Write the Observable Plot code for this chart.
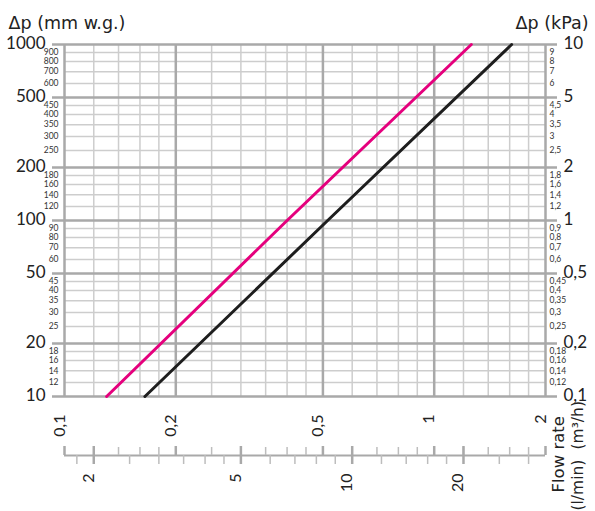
<!DOCTYPE html>
<html><head><meta charset="utf-8">
<script src="https://cdn.jsdelivr.net/npm/d3@7"></script>
<script src="https://cdn.jsdelivr.net/npm/@observablehq/plot@0.6"></script>
<style>html,body{margin:0;padding:0;background:#fff} svg{display:block}</style>
</head><body><div id="chart"></div>
<script>
// Flow rate grid (m³/h)
const flowMajor = [0.1, 0.2, 0.5, 1, 2];
const flowMajorLabels = ["0,1", "0,2", "0,5", "1", "2"];
const flowMinor = [0.12, 0.14, 0.16, 0.18, 0.25, 0.3, 0.35, 0.4, 0.45, 0.6, 0.7, 0.8, 0.9, 1.2, 1.4, 1.6, 1.8];
// Flow rate secondary axis (l/min)
const lpmMajor = [2, 5, 10, 20];
const lpmMinor = [1.8, 2.5, 3, 3.5, 4, 4.5, 6, 7, 8, 9, 12, 14, 16, 18, 25, 30];
const lpmToM3h = 0.06;
// Pressure drop (mm w.g.)
const dpMajor = [10, 20, 50, 100, 200, 500, 1000];
const dpMinor = [12, 14, 16, 18, 25, 30, 35, 40, 45, 60, 70, 80, 90, 120, 140, 160, 180, 250, 300, 350, 400, 450, 600, 700, 800, 900];
// Pressure drop (kPa), aligned 1 kPa = 100 mm w.g.
const kpaMajor = [0.1, 0.2, 0.5, 1, 2, 5, 10];
const kpaMinor = [0.12, 0.14, 0.16, 0.18, 0.25, 0.3, 0.35, 0.4, 0.45, 0.6, 0.7, 0.8, 0.9, 1.2, 1.4, 1.6, 1.8, 2.5, 3, 3.5, 4, 4.5, 6, 7, 8, 9];
const kpaToMm = 100;
// Curves
const magentaFlow = [0.13, 0.40, 1.26];
const magentaDp = [10, 100, 1000];
const blackFlow = [0.165, 0.515, 1.62];
const blackDp = [10, 100, 1000];

const magenta = magentaFlow.map((f, i) => ({flow: f, dp: magentaDp[i]}));
const black = blackFlow.map((f, i) => ({flow: f, dp: blackDp[i]}));
const fmt = d => String(d).replace(".", ",");

const MINOR = "#cdcdcd", MAJOR = "#a9a9a9", TXT = "#222";
const WIDE = "'DejaVu Sans', 'Noto Sans', sans-serif";

const chart = Plot.plot({
  width: 595, height: 511,
  marginLeft: 64, marginRight: 50, marginTop: 44, marginBottom: 115,
  x: {type: "log", domain: [0.1, 2], axis: null},
  y: {type: "log", domain: [10, 1000], axis: null},
  style: {fontFamily: "Lato, 'Noto Sans', sans-serif", background: "#fff", color: TXT},
  marks: [
    // grid
    Plot.ruleY(dpMinor, {stroke: MINOR, strokeWidth: 1.5}),
    Plot.ruleX(flowMinor, {stroke: MINOR, strokeWidth: 1.5}),
    Plot.ruleY(dpMajor, {stroke: MAJOR, strokeWidth: 2.5, insetLeft: -12, insetRight: -12}),
    Plot.ruleX(flowMajor, {stroke: MAJOR, strokeWidth: 2.5}),
    // curves
    Plot.line(magenta, {x: "flow", y: "dp", stroke: "#e5007d", strokeWidth: 3}),
    Plot.line(black, {x: "flow", y: "dp", stroke: "#1e1e1e", strokeWidth: 3}),
    // left labels (mm w.g.)
    Plot.text(dpMajor, {y: d => d, text: d => String(d), frameAnchor: "left", dx: -19, dy: -1, textAnchor: "end", fontSize: 17, fill: TXT}),
    Plot.text(dpMinor, {y: d => d, text: d => String(d), frameAnchor: "left", dx: -6, textAnchor: "end", fontSize: 8.5, fill: "#333"}),
    // right labels (kPa)
    Plot.text(kpaMajor, {y: d => d * kpaToMm, text: fmt, frameAnchor: "right", dx: 18, dy: -1, textAnchor: "start", fontSize: 17, fill: TXT}),
    Plot.text(kpaMinor, {y: d => d * kpaToMm, text: fmt, frameAnchor: "right", dx: 4, textAnchor: "start", fontSize: 8.5, fill: "#333"}),
    // bottom labels (m³/h)
    Plot.text(flowMajor, {x: d => d, text: (d, i) => flowMajorLabels[i], frameAnchor: "bottom", dy: 18, rotate: -90, textAnchor: "end", fontSize: 16, fill: TXT}),
    // secondary l/min axis
    Plot.ruleY([dpMajor[0]], {dy: 59, stroke: MAJOR, strokeWidth: 2}),
    Plot.tickX(flowMinor, {x: d => d, dy: 59, insetTop: 344, stroke: "#bdbdbd", strokeWidth: 1.5}),
    Plot.tickX(flowMajor, {x: d => d, dy: 59, insetTop: 343, stroke: MAJOR, strokeWidth: 2.5}),
    Plot.tickX(lpmMinor, {x: d => d * lpmToM3h, dy: 59, insetTop: 352, insetBottom: -9, stroke: "#bdbdbd", strokeWidth: 1.5}),
    Plot.tickX(lpmMajor, {x: d => d * lpmToM3h, dy: 59, insetTop: 343, insetBottom: -9, stroke: MAJOR, strokeWidth: 2.5}),
    Plot.text(lpmMajor, {x: d => d * lpmToM3h, text: d => String(d), frameAnchor: "bottom", dy: 77, rotate: -90, textAnchor: "end", fontSize: 16, fill: TXT}),
    // titles
    Plot.text(["Δp (mm w.g.)"], {frameAnchor: "top-left", dx: -56, dy: -28, textAnchor: "start", fontSize: 17.5, fontFamily: WIDE, fill: TXT}),
    Plot.text(["Δp (kPa)"], {frameAnchor: "top-right", dx: 43, dy: -28, textAnchor: "end", fontSize: 17.5, fontFamily: WIDE, fill: TXT}),
    Plot.text(["Flow rate"], {frameAnchor: "bottom-right", dx: 18, dy: 96, rotate: -90, textAnchor: "start", fontSize: 16.5, fontFamily: WIDE, fill: TXT}),
    Plot.text(["(m³/h)"], {frameAnchor: "bottom-right", dx: 37, dy: 53, rotate: -90, textAnchor: "start", fontSize: 15.5, fontFamily: WIDE, fill: TXT}),
    Plot.text(["(l/min)"], {frameAnchor: "bottom-right", dx: 37, dy: 114, rotate: -90, textAnchor: "start", fontSize: 15.5, fontFamily: WIDE, fill: TXT})
  ]
});
document.getElementById("chart").append(chart);
</script>
</body></html>
